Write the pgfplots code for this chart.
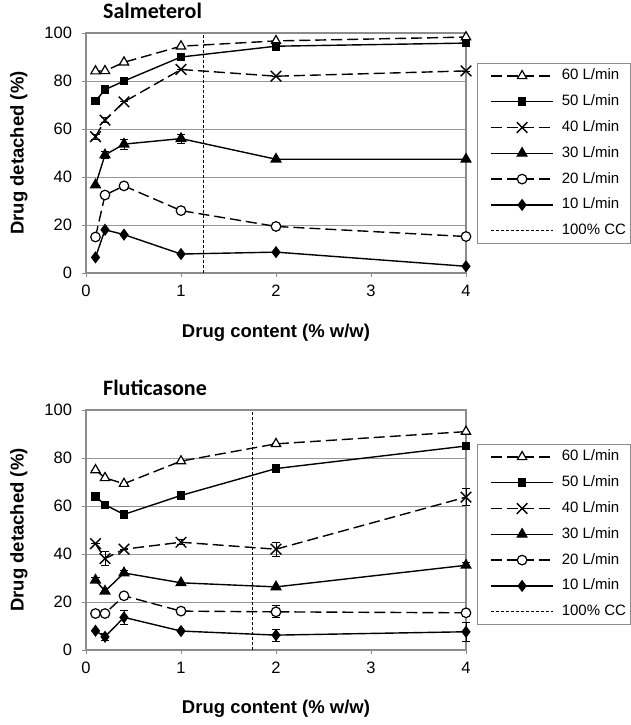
\documentclass[border=0pt]{standalone}
\usepackage{fontspec}
\setmainfont{Liberation Sans}
\newfontfamily\calibri{Carlito}
\usepackage{pgfplots}
\pgfplotsset{compat=1.18}
\definecolor{framegray}{RGB}{140,140,140}
\definecolor{gridgray}{RGB}{150,150,150}
\pgfplotsset{
 myaxis/.style={
  scale only axis, width=380pt, height=240pt,
  xmin=0, xmax=4, ymin=0, ymax=100,
  xtick={0,1,2,3,4}, ytick={0,20,...,100},
  tick pos=left, tick align=outside, major tick length=4pt,
  axis line style={draw=framegray, line width=1.6pt},
  ymajorgrids, grid style={gridgray, line width=1pt},
  every tick/.style={framegray, line width=1pt},
  tick label style={font=\fontsize{16.5}{16.5}\selectfont},
  xticklabel shift=4.5pt, yticklabel shift=6.5pt,
  /pgf/number format/assume math mode=true,
  xlabel={Drug content (\% w/w)},
  ylabel={Drug detached (\%)},
  label style={font=\bfseries\fontsize{18.5}{20}\selectfont},
  ylabel style={at={([xshift=-67pt]axis description cs:0,0.5)}, anchor=center},
  title style={font=\calibri\bfseries\fontsize{22}{22}\selectfont, anchor=base west, inner sep=0pt},
  clip=false,
  legend cell align=left,
  legend style={at={(1,1)}, anchor=north west, xshift=11pt, draw=framegray, line width=0.8pt,
    font=\fontsize{15}{15}\selectfont, inner xsep=4pt, inner ysep=5.5pt,
    nodes={inner sep=0pt, text height=11pt, text depth=3pt},
    column sep=8pt, row sep=11.8pt},
  legend image code/.code={\path (0pt,0pt);
    \draw[mark repeat=2, mark phase=2] plot coordinates {(9pt,0pt) (40pt,0pt) (71pt,0pt)};},
  error bars/y dir=both, error bars/y explicit,
  error bars/error mark options={rotate=90, mark size=4pt, line width=0.8pt, solid},
  error bars/error bar style={line width=0.8pt, solid},
 },
 sl/.style={black, line width=1.4pt, solid, mark options={solid}},
 dl/.style={black, line width=1.4pt, dash pattern=on 11pt off 5pt, mark options={solid}},
 m60/.style={mark=triangle*, mark size=5.4pt, mark options={solid, fill=white, draw=black, line width=1.2pt}},
 m50/.style={mark=square*, mark size=3.6pt, mark options={solid, fill=black}},
 m40/.style={mark=x, mark size=7.5pt, mark options={solid}},
 m30/.style={mark=triangle*, mark size=5.4pt, mark options={solid, fill=black}},
 m20/.style={mark=*, mark size=4.8pt, mark options={solid, fill=white, draw=black, line width=1.2pt}},
 m10/.style={mark=diamond*, mark size=5pt, mark options={solid, fill=black}},
 cc/.style={black, line width=1pt, dash pattern=on 3pt off 2pt, mark=none},
}
\begin{document}
\begin{tikzpicture}
\useasboundingbox (0,0) rectangle (631pt,-725pt);
% ---------------- Salmeterol ----------------
\begin{axis}[myaxis, at={(86pt,-273pt)}, anchor=south west,
  title={Salmeterol}, title style={at={([xshift=17pt,yshift=9pt]axis description cs:0,1)}},
  xlabel style={at={([yshift=-64.5pt]axis description cs:0.5,0)}, anchor=base},
  legend style={yshift=-30pt}]
\addplot[dl, m60] coordinates {(0.1,84.1) +- (0,0) (0.2,84.2) +- (0,0) (0.4,87.8) +- (0,0) (1,94.5) +- (0,0) (2,96.7) +- (0,0) (4,98.3) +- (0,0)};
\addlegendentry{60 L/min}
\addplot[sl, m50] coordinates {(0.1,71.6) +- (0,0) (0.2,76.4) +- (0,0) (0.4,80) +- (0,0) (1,90) +- (0,0) (2,94.5) +- (0,0) (4,95.8) +- (0,0)};
\addlegendentry{50 L/min}
\addplot[dl, m40] coordinates {(0.1,56.8) +- (0,1) (0.2,63.7) +- (0,1) (0.4,71.3) +- (0,0) (1,84.8) +- (0,0) (2,82) +- (0,0) (4,84.2) +- (0,0)};
\addlegendentry{40 L/min}
\addplot[sl, m30] coordinates {(0.1,36.7) +- (0,0) (0.2,49.2) +- (0,1.5) (0.4,53.7) +- (0,2) (1,56) +- (0,1.8) (2,47.4) +- (0,0) (4,47.4) +- (0,0)};
\addlegendentry{30 L/min}
\addplot[dl, m20] coordinates {(0.1,15) +- (0,0) (0.2,32.5) +- (0,0) (0.4,36.3) +- (0,0) (1,26) +- (0,0) (2,19.4) +- (0,0) (4,15.2) +- (0,0)};
\addlegendentry{20 L/min}
\addplot[sl, m10] coordinates {(0.1,6.5) +- (0,0) (0.2,18) +- (0,0) (0.4,16) +- (0,0) (1,7.9) +- (0,0) (2,8.7) +- (0,0) (4,2.8) +- (0,0)};
\addlegendentry{10 L/min}
\addplot[cc] coordinates {(1.24,0) (1.24,100)};
\addlegendentry{100\% CC}
\end{axis}
% ---------------- Fluticasone ----------------
\begin{axis}[myaxis, at={(86pt,-650pt)}, anchor=south west,
  title={Fluticasone}, title style={at={([xshift=17pt,yshift=8.5pt]axis description cs:0,1)}},
  xlabel style={at={([yshift=-63pt]axis description cs:0.5,0)}, anchor=base},
  legend style={yshift=-34pt}]
\addplot[dl, m60] coordinates {(0.1,75) +- (0,0) (0.2,71.7) +- (0,0) (0.4,69.3) +- (0,0) (1,78.7) +- (0,0) (2,85.9) +- (0,0) (4,91) +- (0,0)};
\addlegendentry{60 L/min}
\addplot[sl, m50] coordinates {(0.1,64) +- (0,0) (0.2,60.5) +- (0,0) (0.4,56.5) +- (0,0) (1,64.4) +- (0,0) (2,75.6) +- (0,0) (4,85) +- (0,0)};
\addlegendentry{50 L/min}
\addplot[dl, m40] coordinates {(0.1,44.3) +- (0,0) (0.2,38.1) +- (0,3) (0.4,42) +- (0,0) (1,44.9) +- (0,1) (2,42) +- (0,3) (4,63.7) +- (0,3.5)};
\addlegendentry{40 L/min}
\addplot[sl, m30] coordinates {(0.1,29.1) +- (0,1) (0.2,24.5) +- (0,0) (0.4,32.1) +- (0,1) (1,28) +- (0,0) (2,26.3) +- (0,0) (4,35.3) +- (0,1)};
\addlegendentry{30 L/min}
\addplot[dl, m20] coordinates {(0.1,15.2) +- (0,0) (0.2,15.2) +- (0,0) (0.4,22.6) +- (0,1) (1,16.2) +- (0,0) (2,15.9) +- (0,2.5) (4,15.5) +- (0,0)};
\addlegendentry{20 L/min}
\addplot[sl, m10] coordinates {(0.1,8) +- (0,0) (0.2,5.5) +- (0,1.5) (0.4,13.6) +- (0,3) (1,7.9) +- (0,0) (2,6.2) +- (0,2.5) (4,7.6) +- (0,4)};
\addlegendentry{10 L/min}
\addplot[cc] coordinates {(1.75,0) (1.75,100)};
\addlegendentry{100\% CC}
\end{axis}
\end{tikzpicture}
\end{document}
